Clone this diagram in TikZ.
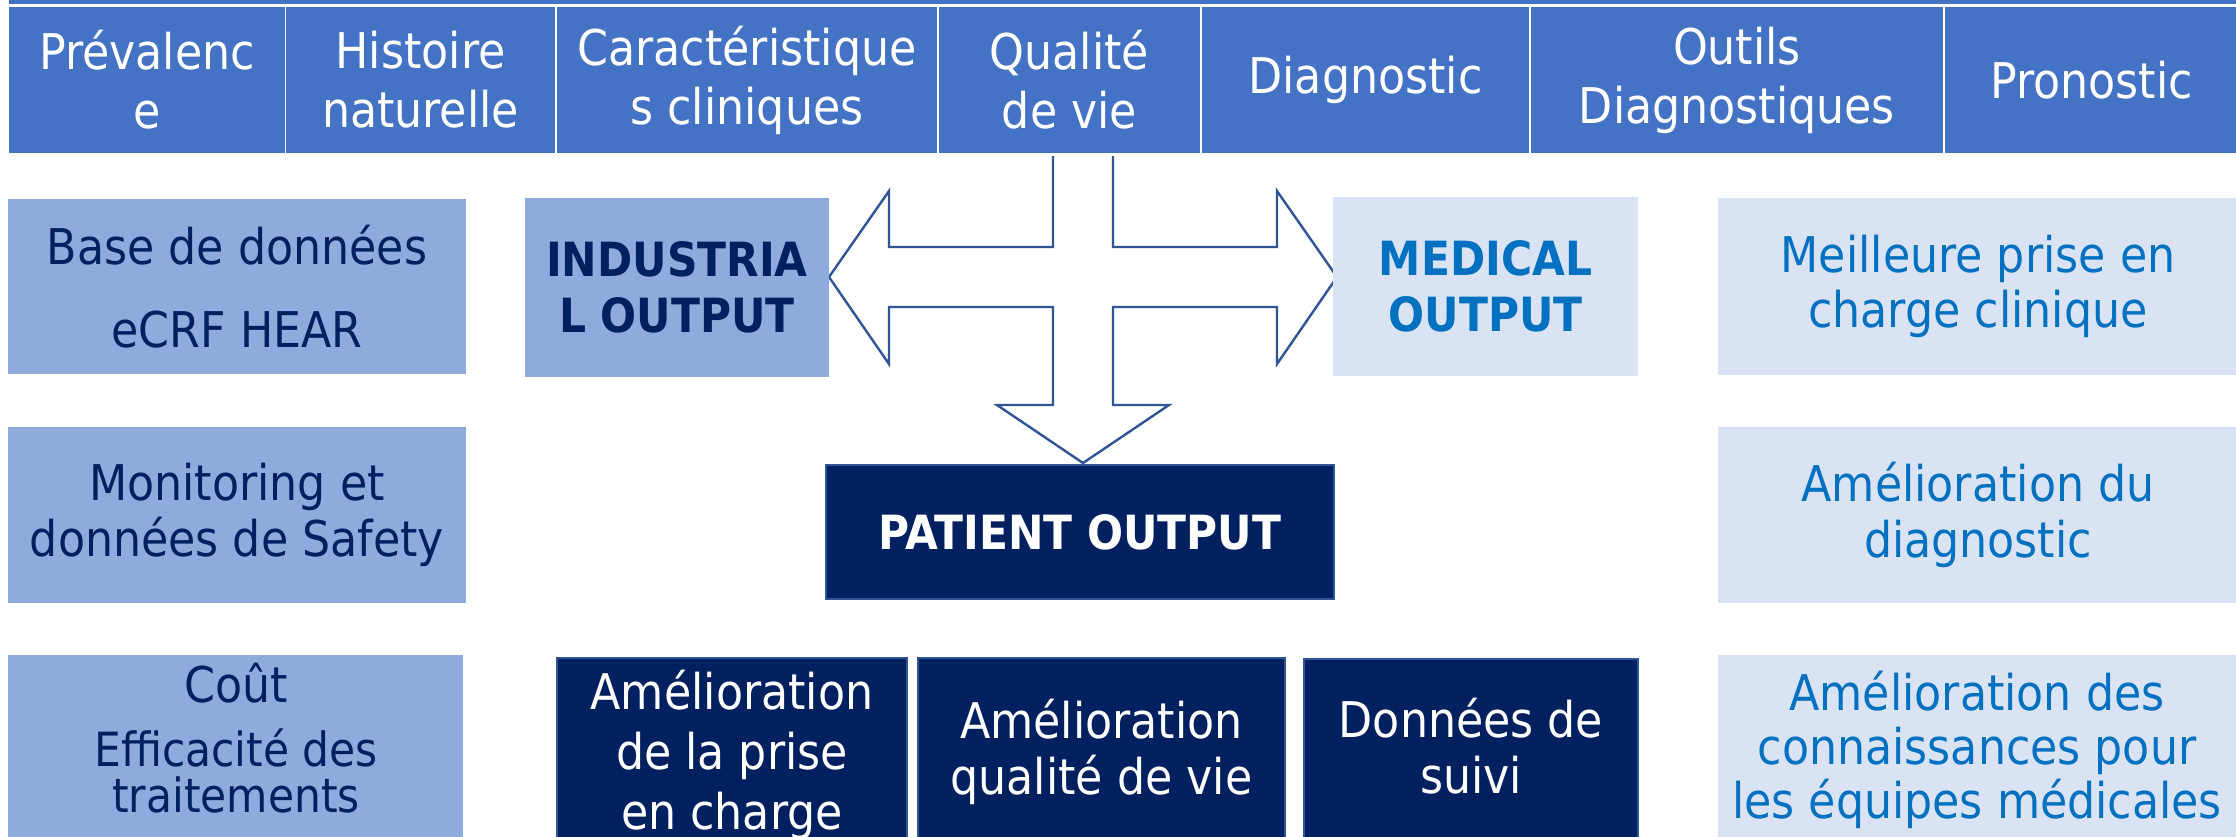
\documentclass[tikz,border=0pt]{standalone}
\usepackage{fontspec}
\setmainfont{DejaVu Sans Condensed}
\definecolor{hdr}{HTML}{4472C4}
\definecolor{lbl}{HTML}{8FAADC}
\definecolor{pale}{HTML}{DAE3F3}
\definecolor{navy}{HTML}{002060}
\definecolor{medblue}{HTML}{0070C0}
\definecolor{arrowc}{HTML}{2F5597}
\tikzset{
  txt/.style={font=\fontsize{14pt}{15.8pt}\selectfont},
  btxt/.style={font=\fontsize{13.4pt}{15.8pt}\selectfont\bfseries},
  cell/.style={fill=hdr, text=white, align=center, inner sep=0pt, minimum height=1.46cm,
    font=\fontsize{14pt}{16.8pt}\selectfont},
  lbox/.style={fill=lbl, text=navy, align=center, inner sep=0pt, txt},
  pbox/.style={fill=pale, text=medblue, align=center, inner sep=0pt, txt},
  dbox/.style={fill=navy, draw=arrowc, line width=0.02cm, text=white, align=center, inner sep=0pt, txt},
  tnode/.style={align=center, inner sep=0pt, txt},
}
\begin{document}
\begin{tikzpicture}[x=0.01cm,y=-0.01cm]
\useasboundingbox (0,0) rectangle (2236,836);
\fill[white] (0,0) rectangle (2236,836);

% block arrow
\path[fill=white] (1113,150) -- (1113,247) -- (1277,247) -- (1277,191) -- (1337,277) -- (1277,364)
  -- (1277,307) -- (1113,307) -- (1113,405) -- (1169,405) -- (1083,463) -- (997,405) -- (1053,405)
  -- (1053,307) -- (889,307) -- (889,364) -- (829,277) -- (889,191) -- (889,247) -- (1053,247)
  -- (1053,150) -- cycle;
\draw[arrowc, line width=0.024cm, line join=miter] (1113,156) -- (1113,247) -- (1277,247) -- (1277,191) -- (1337,277) -- (1277,364)
  -- (1277,307) -- (1113,307) -- (1113,405) -- (1169,405) -- (1083,463) -- (997,405) -- (1053,405)
  -- (1053,307) -- (889,307) -- (889,364) -- (829,277) -- (889,191) -- (889,247) -- (1053,247)
  -- (1053,156);

% header
\fill[hdr] (9,0) rectangle (2238,4);
\node[cell, minimum width=2.76cm] (h1) at (147,80) {Prévalenc\\e};
\node[cell, minimum width=2.69cm] (h2) at (420.5,80) {Histoire\\naturelle};
\node[cell, minimum width=3.80cm] (h3) at (747,80) {Caractéristique\\s cliniques};
\node[cell, minimum width=2.61cm] (h4) at (1069.5,80) {Qualité\\de vie};
\node[cell, minimum width=3.27cm] (h5) at (1365.5,80) {Diagnostic};
\node[cell, minimum width=4.12cm] (h6) at (1737,80) {Outils\\Diagnostiques};
\node[cell, minimum width=2.93cm] (h7) at (2091.5,80) {Pronostic};

% middle row
\node[lbox, minimum width=4.58cm, minimum height=1.75cm] (base) at (237,286.5) {Base de données\\[7.8pt]eCRF HEAR};
\node[lbox, btxt, minimum width=3.04cm, minimum height=1.79cm] (indus) at (677,287.5) {INDUSTRIA\\L OUTPUT};
\node[pbox, btxt, minimum width=3.05cm, minimum height=1.79cm] (med) at (1485.5,286.5) {MEDICAL\\OUTPUT};
\node[pbox, minimum width=5.2cm, minimum height=1.77cm] (r1) at (1978,286.5) {Meilleure prise en\\charge clinique};

% second row
\node[lbox, minimum width=4.58cm, minimum height=1.76cm] (monit) at (237,515) {Monitoring et\\données de Safety};
\node[pbox, minimum width=5.2cm, minimum height=1.76cm] (r2) at (1978,515) {Amélioration du\\diagnostic};
\node[dbox, btxt, minimum width=5.08cm, minimum height=1.34cm] (pat) at (1080,532) {PATIENT OUTPUT};

% bottom row (boxes run past the lower edge)
\node[lbox, minimum width=4.55cm, minimum height=2.0cm] (cout) at (235.5,755) {};
\node[tnode, text=navy, anchor=base] (couttxt) at (236,702) {Coût};
\node[tnode, text=navy, font=\fontsize{13.4pt}{13pt}\selectfont] (efftxt) at (236,771) {Efficacité des\\traitements};

\node[dbox, minimum width=3.5cm, minimum height=2.0cm] (d1) at (732,758) {};
\node[tnode, text=white, font=\fontsize{14pt}{17pt}\selectfont] (d1txt) at (732,755) {Amélioration\\de la prise\\en charge};
\node[dbox, minimum width=3.67cm, minimum height=2.0cm] (d2) at (1101.5,758) {};
\node[tnode, text=white] (d2txt) at (1101.5,752) {Amélioration\\qualité de vie};
\node[dbox, minimum width=3.34cm, minimum height=2.0cm] (d3) at (1471,759) {};
\node[tnode, text=white] (d3txt) at (1471,746) {Données de\\suivi};

\node[pbox, minimum width=5.2cm, minimum height=2.0cm] (r3) at (1978,755) {};
\node[tnode, text=medblue, font=\fontsize{14pt}{15.4pt}\selectfont] (r3txt) at (1977,750) {Amélioration des\\connaissances pour\\les équipes médicales};
\end{tikzpicture}
\end{document}
